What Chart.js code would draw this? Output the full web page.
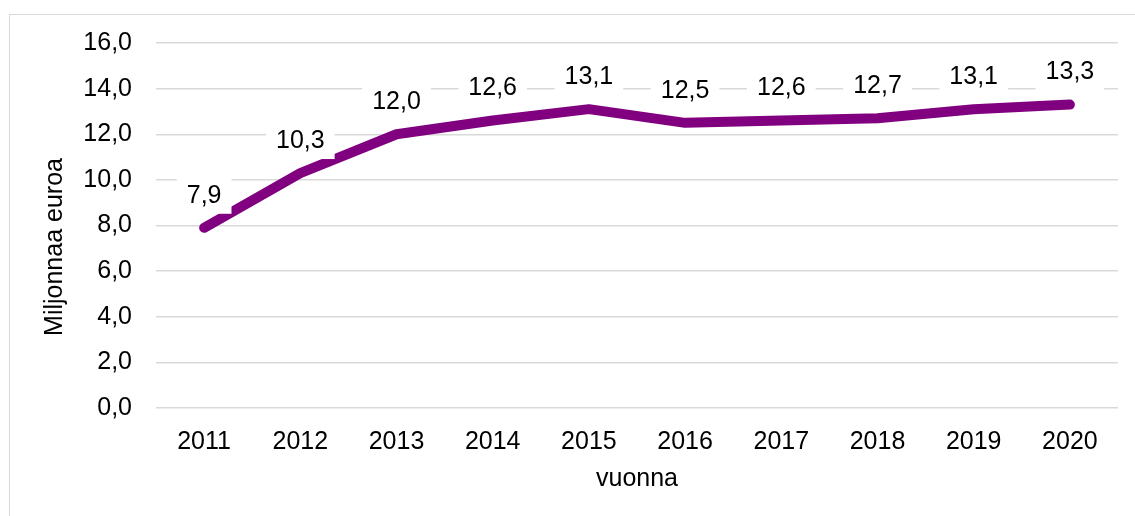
<!DOCTYPE html>
<html>
<head>
<meta charset="utf-8">
<script src="https://cdn.jsdelivr.net/npm/chart.js@4.4.1/dist/chart.umd.min.js"></script>
<style>
    body { margin: 0; background: #fff; overflow: hidden; }
    #frame {
        position: absolute;
        left: 9px;
        top: 14px;
        width: 1140px;
        height: 520px;
        border: 1.5px solid #d9d9d9;
    }
    #chart { position: absolute; left: 0; top: 0; }
</style>
</head>
<body>
<div id="frame"></div>
<canvas id="chart" width="1135" height="516"></canvas>
<script>
const years = ['2011', '2012', '2013', '2014', '2015', '2016', '2017', '2018', '2019', '2020'];
const values = [7.9, 10.3, 12.0, 12.6, 13.1, 12.5, 12.6, 12.7, 13.1, 13.3];
const yTitle = 'Miljonnaa euroa';
const xTitle = 'vuonna';

const fontFamily = '"Liberation Sans", Arial, sans-serif';
const fontSize = 25;
const fmt = (v) => v.toFixed(1).replace('.', ',');

// labels with white box above each point, like Excel data labels
const valueLabels = {
    id: 'valueLabels',
    afterDatasetsDraw(chart) {
        const ctx = chart.ctx;
        const meta = chart.getDatasetMeta(0);
        ctx.save();
        ctx.font = fontSize + 'px ' + fontFamily;
        ctx.textAlign = 'center';
        ctx.textBaseline = 'middle';
        meta.data.forEach((pt, i) => {
            const text = fmt(values[i]);
            const w = ctx.measureText(text).width + 20;
            const h = 38;
            const cy = pt.y - 33;
            ctx.fillStyle = '#fff';
            ctx.fillRect(pt.x - w / 2, cy - h / 2, w, h);
            ctx.fillStyle = '#000';
            ctx.fillText(text, pt.x, cy + 1);
        });
        ctx.restore();
    }
};

// y title centred like Excel's (on plot + axis labels)
const yAxisTitle = {
    id: 'yAxisTitle',
    afterDraw(chart) {
        const ctx = chart.ctx;
        ctx.save();
        ctx.translate(55, 247);
        ctx.rotate(-Math.PI / 2);
        ctx.font = fontSize + 'px ' + fontFamily;
        ctx.fillStyle = '#000';
        ctx.textAlign = 'center';
        ctx.textBaseline = 'middle';
        ctx.fillText(yTitle, 0, 0);
        ctx.restore();
    }
};

new Chart(document.getElementById('chart').getContext('2d'), {
    type: 'line',
    data: {
        labels: years,
        datasets: [{
            data: values,
            borderColor: '#800080',
            borderWidth: 10,
            borderCapStyle: 'round',
            borderJoinStyle: 'round',
            pointRadius: 0,
            tension: 0,
            fill: false
        }]
    },
    options: {
        responsive: false,
        animation: false,
        layout: { padding: { top: 43, right: 17, bottom: 0, left: 0 } },
        plugins: {
            legend: { display: false },
            tooltip: { enabled: false }
        },
        scales: {
            x: {
                offset: true,
                grid: { display: false, offset: true },
                border: { display: false },
                ticks: {
                    color: '#000',
                    font: { size: fontSize, family: fontFamily },
                    padding: 11,
                    maxRotation: 0,
                    autoSkip: false
                },
                title: {
                    display: true,
                    text: xTitle,
                    color: '#000',
                    font: { size: fontSize, family: fontFamily },
                    padding: { top: 0, bottom: 22 }
                },
                afterFit: (scale) => { scale.height = 108; }
            },
            y: {
                min: 0,
                max: 16,
                grid: { color: '#d9d9d9', lineWidth: 1.5, drawTicks: false },
                border: { display: false },
                ticks: {
                    stepSize: 2,
                    color: '#000',
                    font: { size: fontSize, family: fontFamily },
                    padding: 24,
                    callback: (v) => fmt(v)
                },
                afterFit: (scale) => { scale.width = 156; }
            }
        }
    },
    plugins: [valueLabels, yAxisTitle]
});
</script>
</body>
</html>
